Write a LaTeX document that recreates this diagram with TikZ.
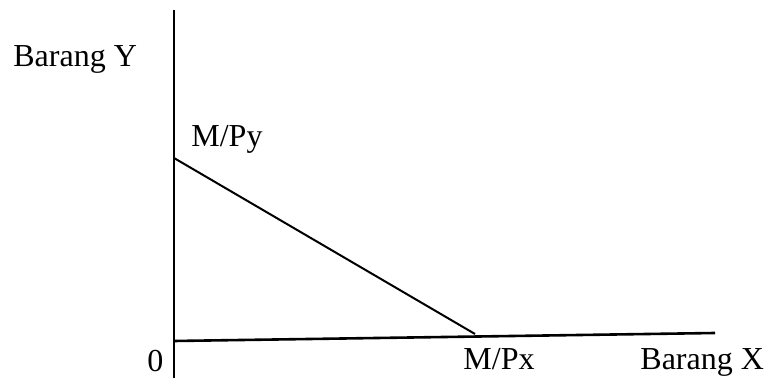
\documentclass[tikz,border=0pt]{standalone}
\usepackage{fontspec}
\setmainfont{Liberation Serif}
\usepackage{tikz}

\begin{document}
\begin{tikzpicture}[x=0.5pt,y=-0.5pt,axis/.style={line width=1.3pt},
                   budget/.style={line width=1pt},
                   lbl/.style={inner sep=0pt,anchor=base west},
                   every node/.style={font=\fontsize{16}{19}\selectfont}]
\useasboundingbox (0,0) rectangle (765,378);
\coordinate (top) at (174,10);
\coordinate (bot) at (174,378);
\coordinate (o) at (174,341);
\coordinate (xend) at (715,333);
\coordinate (my) at (174,158);
\coordinate (mx) at (475,334);
\draw[axis] (top) -- (bot);
\draw[axis] (o) -- (xend);
\draw[budget] (my) -- (mx);
\node[lbl] (ylab) at (13,67) {Barang Y};
\node[lbl] (mpy) at (191,147) {M/Py};
\node[lbl] (zero) at (147,372) {0};
\node[lbl] (mpx) at (463,370) {M/Px};
\node[lbl] (xlab) at (640,370) {Barang X};
\end{tikzpicture}
\end{document}
